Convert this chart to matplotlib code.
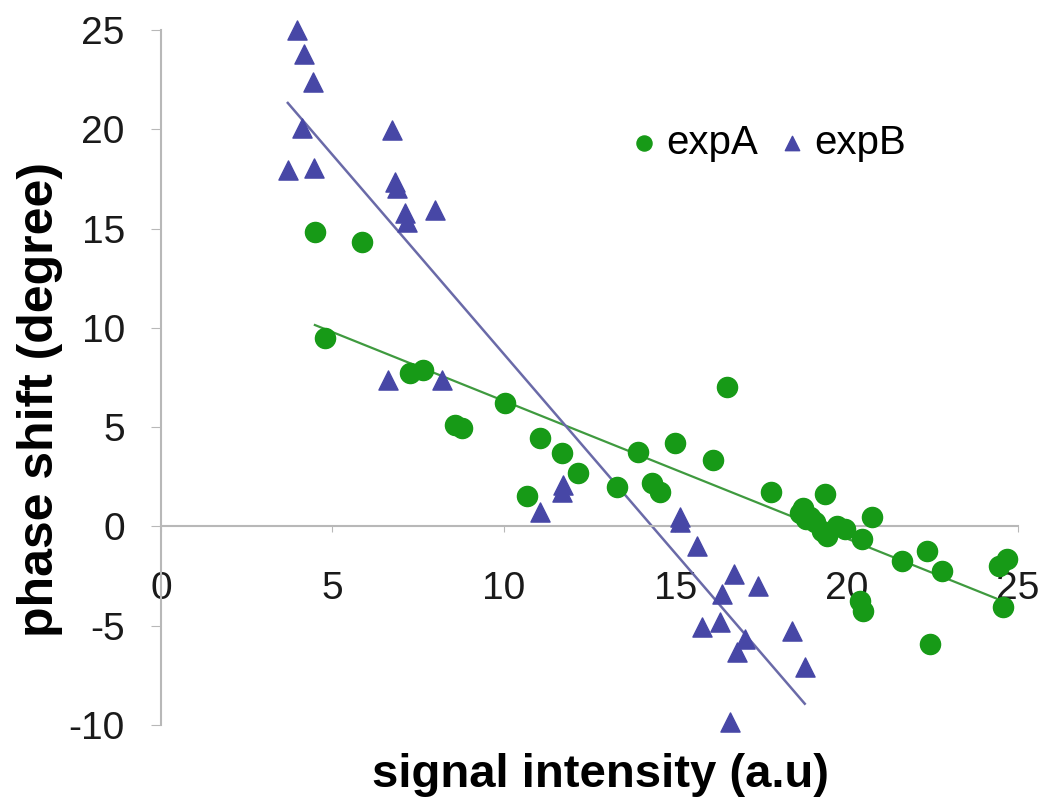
import matplotlib.pyplot as plt
import numpy as np

plt.rcParams["font.family"] = ["Liberation Sans", "DejaVu Sans"]
plt.rcParams["axes.unicode_minus"] = False

# expA (green circles)
exp_a_x = [4.49, 5.86, 4.78, 7.26, 7.64, 8.57, 8.78, 10.03, 11.05, 11.69, 12.16,
           10.67, 13.29, 13.91, 14.31, 14.55, 14.99, 16.09, 16.50, 17.81, 19.36,
           20.73, 18.63, 18.72, 18.83, 18.92, 19.07, 19.27, 19.42, 19.71, 19.94,
           20.44, 21.63, 22.36, 22.77, 24.46, 24.69, 20.38, 20.47, 24.55, 22.42]
exp_a_y = [14.82, 14.32, 9.50, 7.74, 7.89, 5.13, 4.97, 6.23, 4.47, 3.72, 2.71,
           1.51, 2.01, 3.77, 2.21, 1.71, 4.22, 3.37, 7.04, 1.71, 1.61,
           0.50, 0.70, 0.95, 0.35, 0.50, 0.20, -0.25, -0.50, 0.0, -0.15,
           -0.65, -1.76, -1.26, -2.26, -2.01, -1.66, -3.77, -4.27, -4.07, -5.93]

# expB (blue triangles)
exp_b_x = [3.97, 4.17, 4.43, 4.11, 6.73, 3.70, 4.46, 6.82, 6.88, 7.11, 7.17,
           7.99, 6.62, 8.19, 11.05, 11.72, 11.69, 15.13, 15.13, 15.63, 16.73,
           17.41, 16.38, 15.77, 16.30, 17.03, 16.79, 18.40, 18.78, 16.59]
exp_b_y = [25.0, 23.8, 22.4, 20.05, 19.95, 17.94, 18.04, 17.34, 17.04, 15.78, 15.33,
           15.93, 7.39, 7.39, 0.75, 2.11, 1.71, 0.50, 0.20, -1.0, -2.41,
           -3.02, -3.42, -5.08, -4.82, -5.68, -6.33, -5.28, -7.09, -9.85]

x_ticks = [0, 5, 10, 15, 20, 25]
y_ticks = [-10, -5, 0, 5, 10, 15, 20, 25]

green = "#179a17"
blue = "#4747a6"

fig = plt.figure(figsize=(10.5, 8.07), dpi=100)
ax = fig.add_axes([0.1533, 0.1016, 0.8162, 0.8612])

ax.scatter(exp_a_x, exp_a_y, s=210, marker="o", color=green, label="expA",
           zorder=3, clip_on=False)
ax.scatter(exp_b_x, exp_b_y, s=190, marker="^", color=blue, label="expB",
           zorder=3, clip_on=False)

# linear trend lines over each data range
for xs, ys, c, lw in [(exp_a_x, exp_a_y, "#3f9a3f", 1.6), (exp_b_x, exp_b_y, "#6a6aa8", 1.8)]:
    k, b = np.polyfit(xs, ys, 1)
    xx = np.array([min(xs), max(xs)])
    ax.plot(xx, k * xx + b, color=c, lw=lw, zorder=2)

ax.set_xlim(0, 25)
ax.set_ylim(-10, 25)
ax.set_xticks(x_ticks)
ax.set_yticks(y_ticks)

for s in ["top", "right"]:
    ax.spines[s].set_visible(False)
ax.spines["bottom"].set_position(("data", 0))
ax.spines["left"].set_color("#b8b8b8")
ax.spines["bottom"].set_color("#b8b8b8")
ax.spines["left"].set_linewidth(1.5)
ax.spines["bottom"].set_linewidth(1.5)

ax.tick_params(axis="y", direction="out", length=7, color="#b8b8b8", labelsize=28,
               labelcolor="#1a1a1a", pad=19)
ax.tick_params(axis="x", direction="out", length=4, color="#b8b8b8", labelsize=28,
               labelcolor="#1a1a1a", pad=28)

fig.text(0.572, 0.04, "signal intensity (a.u)", fontsize=34, fontweight="bold",
         ha="center", va="center")
fig.text(0.038, 0.505, "phase shift (degree)", fontsize=36, fontweight="bold",
         ha="center", va="center", rotation=90)

ax.legend(loc="center", bbox_to_anchor=(0.705, 0.838), ncol=2, frameon=False,
          fontsize=29, markerscale=0.75, handletextpad=0.05, columnspacing=0.35,
          handlelength=1.0)

fig.savefig("out.png", dpi=100)
